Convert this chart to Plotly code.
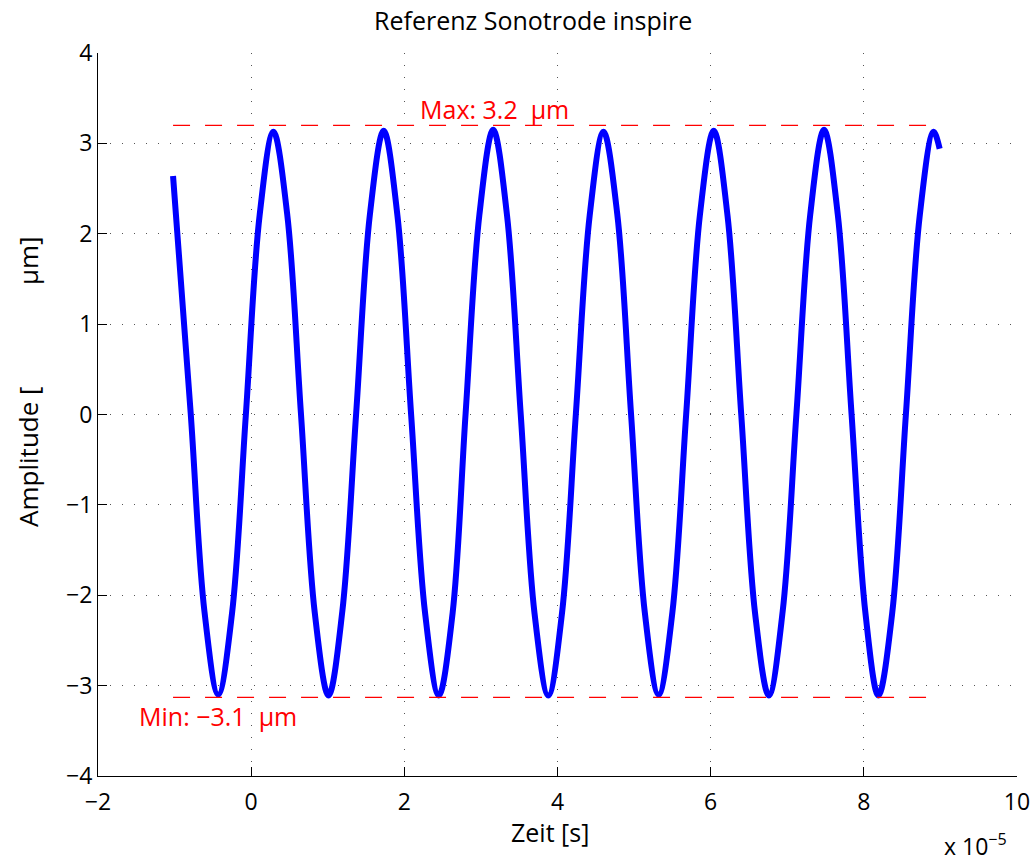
import plotly.graph_objects as go

# time in units of 1e-5 s, amplitude in µm
t = [-1.02, -0.79, -0.61, -0.43, -0.25, -0.07, 0.11, 0.29, 0.47, 0.65, 0.83, 1.01,
     1.19, 1.37, 1.55, 1.73, 1.91, 2.09, 2.27, 2.45, 2.63, 2.80, 2.98, 3.16,
     3.34, 3.52, 3.70, 3.88, 4.06, 4.24, 4.42, 4.60, 4.78, 4.96, 5.14, 5.32,
     5.50, 5.68, 5.86, 6.04, 6.22, 6.40, 6.58, 6.76, 6.94, 7.12, 7.30, 7.48,
     7.66, 7.84, 8.02, 8.19, 8.37, 8.55, 8.73, 8.91, 8.99]
amp = [2.64, 0.02, -2.18, -3.10, -2.20, -0.01, 2.20, 3.13, 2.22, 0.01, -2.19, -3.11,
       -2.18, 0.00, 2.21, 3.14, 2.20, -0.02, -2.19, -3.11, -2.20, 0.01, 2.21, 3.15,
       2.21, 0.00, -2.20, -3.11, -2.19, 0.01, 2.20, 3.13, 2.22, 0.01, -2.19, -3.10,
       -2.19, 0.00, 2.21, 3.14, 2.20, -0.01, -2.20, -3.11, -2.18, 0.01, 2.21, 3.15,
       2.21, 0.00, -2.19, -3.11, -2.20, 0.01, 2.20, 3.13, 2.94]

max_line = 3.2
min_line = -3.13
max_label = "Max: 3.2  µm"
min_label = "Min: −3.1  µm"
y_title = "Amplitude [" + " " * 15 + "µm]"
x_ticks = [-2, 0, 2, 4, 6, 8, 10]
y_ticks = [-4, -3, -2, -1, 0, 1, 2, 3, 4]

FONT = "Open Sans, Noto Sans, sans-serif"

fig = go.Figure()
fig.add_trace(go.Scatter(
    x=t, y=amp, mode="lines",
    line=dict(color="#0000ff", width=6, shape="spline", smoothing=1.0),
    hoverinfo="skip", showlegend=False))
for yv in (max_line, min_line):
    fig.add_trace(go.Scatter(
        x=[t[0], t[-1]], y=[yv, yv], mode="lines",
        line=dict(color="#ff0000", width=1.3, dash="17px,15px"),
        hoverinfo="skip", showlegend=False))

axis_common = dict(
    showline=True, linecolor="black", linewidth=1, automargin=False,
    ticks="inside", ticklen=9, tickcolor="black", tickwidth=1,
    showgrid=True, gridcolor="#555555", gridwidth=1, griddash="1px,11px",
    zeroline=False, mirror=False,
    tickfont=dict(family=FONT, size=23, color="black"),
)
fig.update_xaxes(range=[-2, 10], tickvals=x_ticks, ticklabelstandoff=5,
                 ticktext=[f"{v:g}".replace("-", "−") for v in x_ticks], **axis_common)
fig.update_yaxes(range=[-4, 4], tickvals=y_ticks,
                 ticktext=[f"{v:g}".replace("-", "−") for v in y_ticks], **axis_common)

ann = [
    dict(text="Referenz Sonotrode inspire", x=0.4733, y=1.0456, xanchor="center", yanchor="middle",
         xref="paper", yref="paper", font=dict(family=FONT, size=25, color="black")),
    dict(text="Zeit [s]", x=0.4913, y=-0.0775, xanchor="center", yanchor="middle",
         xref="paper", yref="paper", font=dict(family=FONT, size=25, color="black")),
    dict(text=y_title, x=-0.0762, y=0.545, xanchor="center", yanchor="middle",
         xref="paper", yref="paper", textangle=-90,
         font=dict(family=FONT, size=26, color="black")),
    dict(text="x 10<sup>−5</sup>", x=0.918, y=-0.0954, xanchor="left", yanchor="middle",
         xref="paper", yref="paper", font=dict(family=FONT, size=23, color="black")),
    dict(text=max_label, x=2.178, y=3.385, xanchor="left", yanchor="middle",
         xref="x", yref="y", font=dict(family=FONT, size=25, color="#ff0000")),
    dict(text=min_label, x=-1.495, y=-3.335, xanchor="left", yanchor="middle",
         xref="x", yref="y", font=dict(family=FONT, size=25, color="#ff0000")),
]
for a in ann:
    a.update(showarrow=False)
fig.update_layout(
    width=1032, height=861,
    margin=dict(l=98, r=15, t=53, b=85, autoexpand=False),
    paper_bgcolor="white", plot_bgcolor="white",
    annotations=ann, showlegend=False,
)
# remove the browser's default 8px body margin so the figure fills the window exactly
fig.write_html("out.html", config={"displayModeBar": False},
               post_script="document.body.style.margin='0px';"
                           "document.body.style.overflow='hidden';")
